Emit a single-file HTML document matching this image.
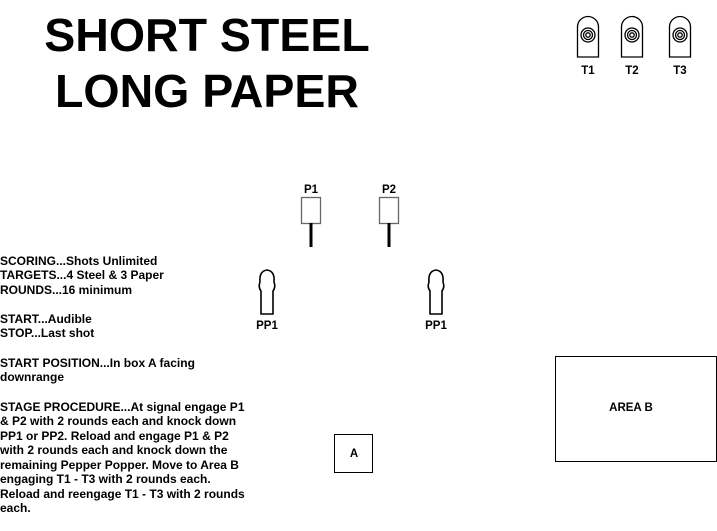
<!DOCTYPE html>
<html><head><style>
body{margin:0;width:717px;height:531px;background:#fff;position:relative;overflow:hidden;font-family:"Liberation Sans",Arial,sans-serif;font-weight:bold;color:#000}
.t{position:absolute;white-space:nowrap}
.s{font-size:12px;left:0;line-height:14px}
.title{font-size:46.5px;left:0;width:414px;text-align:center;line-height:50px}
.lbl{font-size:11.5px;text-align:center;width:40px}
</style></head><body>
<div class="t title" style="top:10px">SHORT STEEL</div>
<div class="t title" style="top:66px">LONG PAPER</div>

<svg width="717" height="531" style="position:absolute;left:0;top:0">
<g fill="#fff" stroke="#000" stroke-width="1.3">
<path d="M577.5,57 V27 A10.5,10.5 0 0 1 598.5,27 V57 Z"/>
<path d="M621.5,57 V27 A10.5,10.5 0 0 1 642.5,27 V57 Z"/>
<path d="M669.5,57 V27 A10.5,10.5 0 0 1 690.5,27 V57 Z"/>
<circle cx="588" cy="35" r="7"/><circle cx="588" cy="35" r="4.5"/><circle cx="588" cy="35" r="2.2"/>
<circle cx="632" cy="35" r="7"/><circle cx="632" cy="35" r="4.5"/><circle cx="632" cy="35" r="2.2"/>
<circle cx="680" cy="35" r="7"/><circle cx="680" cy="35" r="4.5"/><circle cx="680" cy="35" r="2.2"/>
<rect x="301.5" y="197.5" width="19" height="26" stroke="#666"/>
<rect x="379.5" y="197.5" width="19" height="26" stroke="#666"/>
<path d="M261,314 V291 Q258,287 260,282 Q259,271 267,270 Q275,271 274,282 Q276,287 273,291 V314 Z" stroke-width="1.6"/>
<path d="M430,314 V291 Q427,287 429,282 Q428,271 436,270 Q444,271 443,282 Q445,287 442,291 V314 Z" stroke-width="1.6"/>
<rect x="334.5" y="434.5" width="38" height="38" stroke-width="1"/>
<rect x="555.5" y="356.5" width="161" height="105" stroke-width="1"/>
</g>
<rect x="309.5" y="223" width="3" height="24" fill="#000"/>
<rect x="387.5" y="223" width="3" height="24" fill="#000"/>
</svg>

<div class="t lbl" style="left:568px;top:65px">T1</div>
<div class="t lbl" style="left:612px;top:65px">T2</div>
<div class="t lbl" style="left:660px;top:65px">T3</div>
<div class="t lbl" style="left:291px;top:184px">P1</div>
<div class="t lbl" style="left:369px;top:184px">P2</div>
<div class="t lbl" style="left:247px;top:320px">PP1</div>
<div class="t lbl" style="left:416px;top:320px">PP1</div>
<div class="t lbl" style="left:334px;top:448px">A</div>
<div class="t lbl" style="left:596px;top:402px;width:70px">AREA B</div>

<div class="t s" style="top:254px">SCORING...Shots Unlimited</div>
<div class="t s" style="top:268px">TARGETS...4 Steel &amp; 3 Paper</div>
<div class="t s" style="top:283px">ROUNDS...16 minimum</div>
<div class="t s" style="top:312px">START...Audible</div>
<div class="t s" style="top:326px">STOP...Last shot</div>
<div class="t s" style="top:356px">START POSITION...In box A facing</div>
<div class="t s" style="top:370px">downrange</div>
<div class="t s" style="top:400px">STAGE PROCEDURE...At signal engage P1</div>
<div class="t s" style="top:414px">&amp; P2 with 2 rounds each and knock down</div>
<div class="t s" style="top:429px">PP1 or PP2. Reload and engage P1 &amp; P2</div>
<div class="t s" style="top:443px">with 2 rounds each and knock down the</div>
<div class="t s" style="top:458px">remaining Pepper Popper. Move to Area B</div>
<div class="t s" style="top:472px">engaging T1 - T3 with 2 rounds each.</div>
<div class="t s" style="top:487px">Reload and reengage T1 - T3 with 2 rounds</div>
<div class="t s" style="top:501px">each.</div>
</body></html>
